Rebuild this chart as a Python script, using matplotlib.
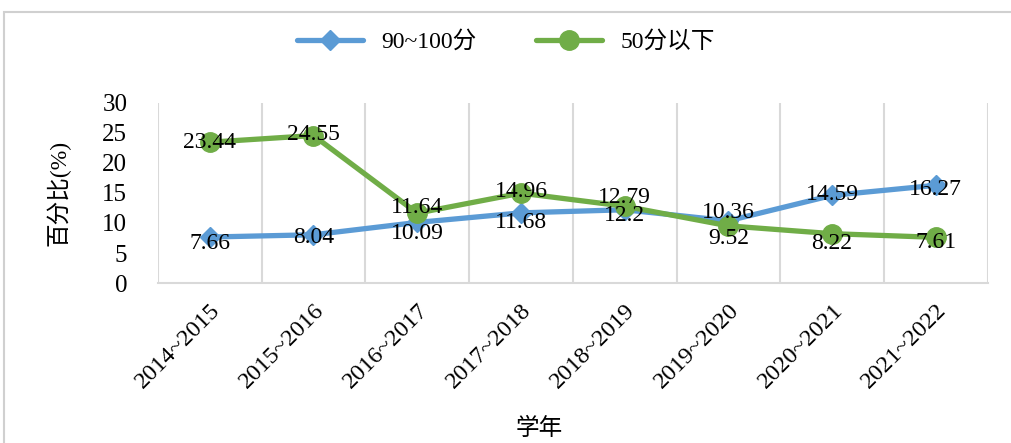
import matplotlib
matplotlib.use("Agg")
import matplotlib.pyplot as plt
from matplotlib.patches import Rectangle
import numpy as np

plt.rcParams['font.family'] = ['Liberation Serif', 'Noto Sans CJK SC']

years = ['2014~2015', '2015~2016', '2016~2017', '2017~2018',
         '2018~2019', '2019~2020', '2020~2021', '2021~2022']
high = [7.66, 8.04, 10.09, 11.68, 12.2, 10.36, 14.59, 16.27]
low = [23.44, 24.55, 11.64, 14.96, 12.79, 9.52, 8.22, 7.61]

# label offsets in points (x, y)
high_off = [(0, -5), (0, -2), (0, -8), (0, -7), (0, -4), (0, 6), (0, 1), (0, -3)]
low_off = [(0, 0), (0, 1), (0, 4), (0, 1), (0, 6), (0, -9), (0, -7), (0, -4)]

blue = '#5B9BD5'
green = '#70AD47'

fig = plt.figure(figsize=(10.12, 4.43), dpi=100)
ax = fig.add_axes([0.156, 0.361, 0.820, 0.407])

x = np.arange(len(years))
ax.plot(x, high, color=blue, lw=3.8, marker='D', ms=10, label='90~100分',
        solid_capstyle='round', zorder=3)
ax.plot(x, low, color=green, lw=3.8, marker='o', ms=14, label='50分以下',
        solid_capstyle='round', zorder=3)

for xi, v, o in zip(x, high, high_off):
    ax.annotate(f'{v:g}', (xi, v), xytext=o, textcoords='offset points',
                ha='center', va='center', fontsize=17, zorder=4)
for xi, v, o in zip(x, low, low_off):
    ax.annotate(f'{v:g}', (xi, v), xytext=o, textcoords='offset points',
                ha='center', va='center', fontsize=17, zorder=4)

ax.set_xlim(-0.5, len(years) - 0.5)
ax.set_ylim(0, 30)
ax.set_yticks(range(0, 31, 5))
ax.set_xticks(x)
ax.set_xticklabels(years, rotation=45, ha='right', rotation_mode='anchor')
ax.set_xticks(np.arange(-0.5, len(years), 1), minor=True)
ax.grid(axis='x', which='minor', color='#D9D9D9', lw=1.5)
ax.grid(axis='x', which='major', visible=False)
ax.tick_params(axis='both', which='both', length=0, labelsize=17.5)
ax.tick_params(axis='y', labelsize=18, pad=22)
ax.tick_params(axis='x', pad=12)
for s in ['top', 'left', 'right']:
    ax.spines[s].set_visible(False)
ax.spines['bottom'].set_color('#D9D9D9')
ax.spines['bottom'].set_linewidth(1.5)

ax.set_ylabel('百分比(%)', fontsize=17)
ax.yaxis.set_label_coords(-0.105, 0.5)
ax.set_xlabel('学年', fontsize=17)
ax.xaxis.set_label_coords(0.46, -0.745)

fig.legend(loc='center', bbox_to_anchor=(0.5, 0.905), ncol=2, frameon=False,
           fontsize=17, handlelength=2.8, columnspacing=2.5)

fig.patches.append(Rectangle((4 / 1012, -0.1), 1.2, 1 - 12 / 443 + 0.1,
                             transform=fig.transFigure, fill=False,
                             edgecolor='#D0D0D0', lw=1.5))

fig.savefig('out.png', dpi=100)
